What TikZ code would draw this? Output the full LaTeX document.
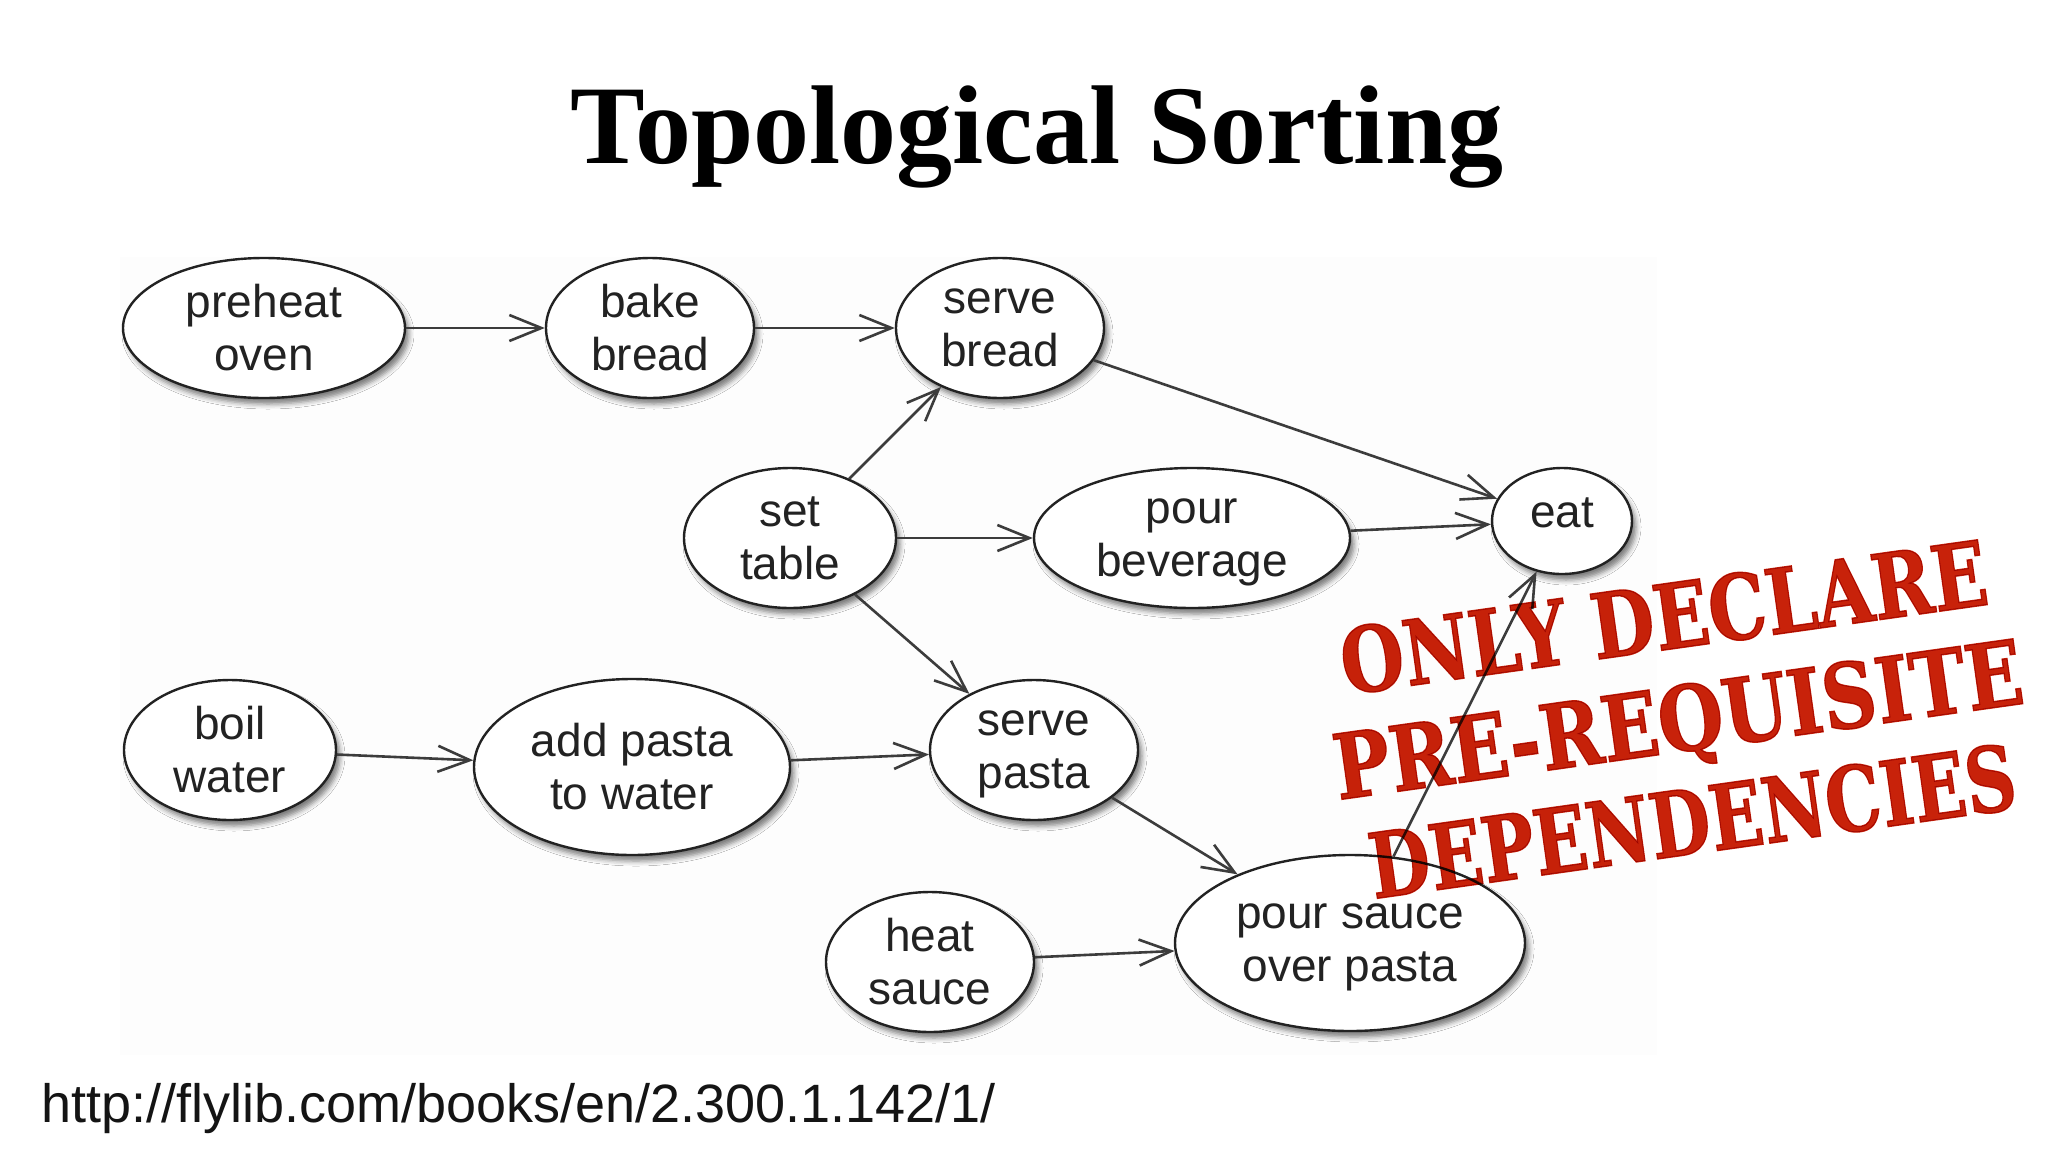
\documentclass[tikz,border=0pt]{standalone}
\usepackage{fontspec}
\setmainfont{Liberation Sans}
\newfontfamily\titlefont{Liberation Serif}
\newfontfamily\stampfont[FakeBold=1.5]{DejaVu Serif Bold}
\usetikzlibrary{shapes.geometric,arrows.meta,shadows.blur}
\definecolor{stampred}{RGB}{200,34,10}
\definecolor{edgegray}{RGB}{60,60,60}
\definecolor{ink}{RGB}{34,34,34}
\begin{document}
\begin{tikzpicture}[x=1pt,y=-1pt,
  task/.style={ellipse, draw=ink, line width=2.4pt, fill=white, inner sep=0pt,
    align=center, text=ink, font=\fontsize{46}{53}\selectfont,
    execute at begin node={\vphantom{b}},
    blur shadow={shadow xshift=4pt, shadow yshift=-6pt, shadow blur radius=5pt, shadow opacity=50}},
  dep/.style={draw=edgegray, line width=2.6pt, -{Straight Barb[length=32pt,width=26pt]}},
]
\useasboundingbox (0,0) rectangle (2048,1152);
\fill[white] (0,0) rectangle (2048,1152);
\fill[black!0.6] (120,257) rectangle (1657,1055);

\node[anchor=base, font=\titlefont\bfseries\fontsize{112}{130}\selectfont] (title) at (1037,163) {Topological Sorting};

\node[task, minimum width=282pt, minimum height=140pt] (preheat) at (264,328) {preheat\\oven};
\node[task, minimum width=208pt, minimum height=140pt] (bake) at (650,328) {bake\\bread};
\node[task, minimum width=208pt, minimum height=140pt] (servebread) at (1000,328) {serve\\bread};
\node[task, minimum width=212pt, minimum height=140pt] (settable) at (790,538) {set\\table};
\node[task, minimum width=316pt, minimum height=140pt] (beverage) at (1192,538) {pour\\\smash{beverage}};
\node[task, minimum width=140pt, minimum height=106pt, execute at begin node={}, text height=25pt, text depth=13pt] (eat) at (1562,521) {eat};
\node[task, minimum width=212pt, minimum height=140pt] (boil) at (230,750) {boil\\water};
\node[task, minimum width=316pt, minimum height=176pt] (addpasta) at (632,767) {add pasta\\to water};
\node[task, minimum width=208pt, minimum height=140pt] (servepasta) at (1034,750) {serve\\\smash{pasta}};
\node[task, minimum width=208pt, minimum height=140pt] (heat) at (930,962) {heat\\sauce};
\node[task, minimum width=350pt, minimum height=176pt] (poursauce) at (1350,943) {pour sauce\\\smash{over pasta}};

\draw[dep] (preheat) -- (bake);
\draw[dep] (bake) -- (servebread);
\draw[dep] (settable) -- (servebread);
\draw[dep] (settable) -- (beverage);
\draw[dep] (settable) -- (servepasta);
\draw[dep] (servebread) -- (eat);
\draw[dep] (beverage) -- (eat);
\draw[dep] (boil) -- (addpasta);
\draw[dep] (addpasta) -- (servepasta);
\draw[dep] (servepasta) -- (poursauce);
\draw[dep] (heat) -- (poursauce);
\draw[dep] (poursauce) -- (eat);

\begin{scope}[blend mode=multiply]
\node[rotate=8, text=stampred, align=center, inner sep=0pt,
  font=\stampfont\fontsize{90}{103}\selectfont] (stamp) at (1678,719)
  {\resizebox{652pt}{\height}{ONLY DECLARE}\\\resizebox{695pt}{\height}{PRE-REQUISITE}\\\resizebox{652pt}{\height}{DEPENDENCIES}};
\end{scope}

\node[anchor=base west, inner sep=0pt, font=\fontsize{54}{60}\selectfont, text=black!92] (url) at (41,1122) {http://flylib.com/books/en/2.300.1.142/1/};
\end{tikzpicture}
\end{document}
